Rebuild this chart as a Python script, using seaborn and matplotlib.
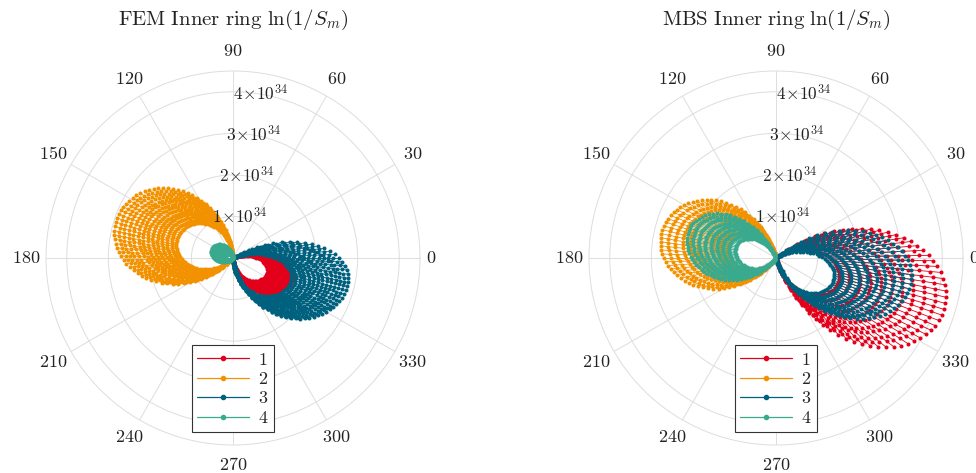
import numpy as np
import pandas as pd
import matplotlib
matplotlib.use("Agg")
import matplotlib.pyplot as plt
from matplotlib.lines import Line2D
import seaborn as sns

# radii in units of 1e34, directions in degrees
SCALE = 1e34
series_labels = ["1", "2", "3", "4"]
colors = ["#e2001a", "#f39200", "#00617f", "#3aaa8f"]
theta_ticks = [0, 30, 60, 90, 120, 150, 180, 210, 240, 270, 300, 330]
r_ticks = [1, 2, 3, 4]
r_tick_labels = [r"$1\!\times\!10^{34}$", r"$2\!\times\!10^{34}$",
                 r"$3\!\times\!10^{34}$", r"$4\!\times\!10^{34}$"]
r_max = 4.5
r_label_angle = 80.5

# FEM panel: peak radius and direction of each loop, half-width (cw side, ccw side)
fem1_peak = [0.90, 0.97, 1.04, 1.11, 1.18, 1.25, 1.32, 1.39, 1.46, 1.53]
fem1_dir = [-25, -24, -24, -23, -23, -22, -22, -21, -21, -20]
fem1_half = [62, 45]
fem2_peak = [1.42, 1.54, 1.66, 1.78, 1.89, 2.01, 2.13, 2.25, 2.36, 2.48, 2.60, 2.72, 2.83, 2.95]
fem2_dir = [160, 160, 160, 160, 161, 161, 161, 161, 161, 162, 162, 162, 162, 162]
fem2_half = [67, 64]
fem3_peak = [1.50, 1.60, 1.71, 1.81, 1.92, 2.02, 2.12, 2.23, 2.33, 2.43, 2.53, 2.63, 2.73, 2.83]
fem3_dir = [-22, -21, -20, -20, -19, -18, -17, -17, -16, -15, -14, -14, -13, -12]
fem3_half = [68, 42]
fem4_peak = [0.20, 0.26, 0.32, 0.38, 0.44, 0.50, 0.55]
fem4_dir = [165, 164, 162, 161, 160, 158, 157]
fem4_half = [60, 62]

# MBS panel
mbs1_peak = [1.60, 1.86, 2.12, 2.38, 2.65, 2.91, 3.17, 3.43, 3.70, 3.96, 4.22]
mbs1_dir = [-22, -21, -21, -20, -20, -19, -19, -18, -18, -17, -17]
mbs1_half = [55, 55]
mbs2_peak = [1.20, 1.38, 1.56, 1.74, 1.92, 2.10, 2.28, 2.46, 2.64, 2.82]
mbs2_dir = [166, 166, 166, 167, 167, 167, 167, 168, 168, 168]
mbs2_half = [64, 64]
mbs3_peak = [1.48, 1.68, 1.88, 2.08, 2.28, 2.49, 2.69, 2.89, 3.09, 3.30]
mbs3_dir = [-22, -21, -19, -18, -17, -15, -14, -13, -11, -10]
mbs3_half = [57, 50]
mbs4_peak = [1.00, 1.15, 1.30, 1.45, 1.60, 1.75, 1.90, 2.05, 2.20]
mbs4_dir = [165, 165, 165, 164, 164, 164, 163, 163, 163]
mbs4_half = [50, 68]


def lobe_frame(peaks, dirs, half, label, step=2):
    """Points of one series: spokes at fixed angle running through all loops."""
    lo = min(d - half[0] for d in dirs)
    hi = max(d + half[1] for d in dirs)
    rows = []
    for spoke, th in enumerate(np.arange(np.floor(lo), hi + step, step)):
        for R, d in zip(peaks, dirs):
            delta = th - d
            w = half[1] if delta > 0 else half[0]
            if abs(delta) >= w:
                continue
            r = R * np.cos(np.pi / 2 * delta / w)
            rows.append((np.radians(th), r * SCALE, spoke, label))
    return pd.DataFrame(rows, columns=["theta", "r", "spoke", "serie"])


def desenhar(ax, df, titulo):
    sns.lineplot(data=df, x="theta", y="r", hue="serie", units="spoke",
                 estimator=None, sort=False, hue_order=series_labels,
                 palette=colors, marker="o", markersize=2.9,
                 markeredgewidth=0, linewidth=0.6, legend=False, ax=ax)
    ax.set_xlabel("")
    ax.set_ylabel("")
    ax.set_thetagrids(theta_ticks, labels=[f"${t}$" for t in theta_ticks])
    ax.set_rlim(0, r_max * SCALE)
    ax.set_yticks([t * SCALE for t in r_ticks], labels=["" for _ in r_ticks])
    for t, lab in zip(r_ticks, r_tick_labels):
        ax.text(np.radians(r_label_angle), t * SCALE, lab, ha="center",
                va="center", fontsize=12.5, color="#222222")
    ax.grid(True, color="#dddddd", linewidth=0.7)
    ax.spines["polar"].set_color("#dddddd")
    ax.spines["polar"].set_linewidth(0.7)
    ax.tick_params(axis="x", pad=1.5, labelsize=13, labelcolor="#222222")
    # the single-digit "0" sits closer to the ring
    ax.xaxis.get_major_ticks()[0].set_pad(-5)
    ax.set_title(titulo, fontsize=15, y=1.10, color="#222222")
    handles = [Line2D([], [], color=c, marker="o", markersize=3, linewidth=0.9)
               for c in colors]
    leg = ax.legend(handles, [f"${s}$" for s in series_labels], loc="upper center",
                    bbox_to_anchor=(0.5, 0.267), fancybox=False, framealpha=1,
                    edgecolor="#333333", fontsize=13, handlelength=2.9,
                    labelspacing=0.08, borderpad=0.3, handletextpad=0.5,
                    borderaxespad=0)
    leg.get_frame().set_linewidth(0.8)


sns.set_theme(style="white")
plt.rcParams["mathtext.fontset"] = "cm"
plt.rcParams["font.family"] = ["DejaVu Serif"]

fem_df = pd.concat([
    lobe_frame(fem1_peak, fem1_dir, fem1_half, "1"),
    lobe_frame(fem2_peak, fem2_dir, fem2_half, "2"),
    lobe_frame(fem3_peak, fem3_dir, fem3_half, "3"),
    lobe_frame(fem4_peak, fem4_dir, fem4_half, "4"),
])
mbs_df = pd.concat([
    lobe_frame(mbs1_peak, mbs1_dir, mbs1_half, "1"),
    lobe_frame(mbs2_peak, mbs2_dir, mbs2_half, "2"),
    lobe_frame(mbs3_peak, mbs3_dir, mbs3_half, "3"),
    lobe_frame(mbs4_peak, mbs4_dir, mbs4_half, "4"),
])

fig = plt.figure(figsize=(9.76, 4.73), dpi=100)
ax1 = fig.add_axes([46 / 976, 28 / 473, 374 / 976, 374 / 473], projection="polar")
ax2 = fig.add_axes([589 / 976, 28 / 473, 374 / 976, 374 / 473], projection="polar")

desenhar(ax1, fem_df, r"$\mathrm{FEM\ Inner\ ring}\ \ln(1/S_m)$")
desenhar(ax2, mbs_df, r"$\mathrm{MBS\ Inner\ ring}\ \ln(1/S_m)$")

fig.savefig("out.png", dpi=100)
